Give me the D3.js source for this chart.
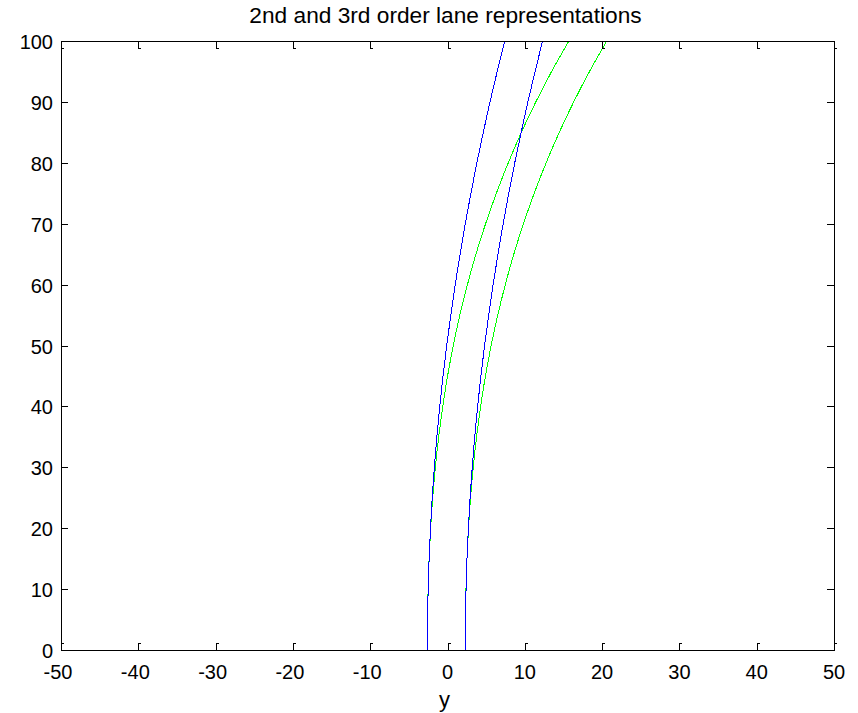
<!DOCTYPE html>
<html>
<head>
<meta charset="utf-8">
<script src="https://cdn.jsdelivr.net/npm/d3@7/dist/d3.min.js"></script>
<style>
  html, body { margin: 0; padding: 0; background: #fff; }
  svg { display: block; }
  text { font-family: "Liberation Sans", Arial, Helvetica, sans-serif; fill: #000; }
</style>
</head>
<body>
<svg id="chart" width="858" height="713"></svg>
<script>
// Longitudinal distance samples (vertical axis) shared by every lane boundary
const distance = [0, 5, 10, 15, 20, 25, 30, 35, 40, 45, 50, 55, 60, 65, 70, 75, 80, 85, 90, 95, 100];

// 2nd order lane model: lateral offset of left / right boundary
const secondOrderLeft  = [-2.60, -2.58, -2.50, -2.38, -2.20, -1.98, -1.70, -1.38, -1.00, -0.58, -0.10,
                           0.43,  1.00,  1.63,  2.30,  3.03,  3.80,  4.63,  5.50,  6.43,  7.40];
const secondOrderRight = [ 2.30,  2.32,  2.40,  2.52,  2.70,  2.92,  3.20,  3.52,  3.90,  4.32,  4.80,
                           5.33,  5.90,  6.53,  7.20,  7.93,  8.70,  9.53, 10.40, 11.33, 12.30];

// 3rd order lane model: lateral offset of left / right boundary
const thirdOrderLeft   = [-2.60, -2.58, -2.51, -2.38, -2.18, -1.92, -1.57, -1.14, -0.61,  0.01,  0.75,
                           1.60,  2.58,  3.68,  4.93,  6.32,  7.86,  9.56, 11.43, 13.47, 15.70];
const thirdOrderRight  = [ 2.30,  2.32,  2.39,  2.52,  2.72,  2.98,  3.33,  3.76,  4.29,  4.91,  5.65,
                           6.50,  7.48,  8.58,  9.83, 11.22, 12.76, 14.46, 16.33, 18.37, 20.60];

const xTicks = [-50, -40, -30, -20, -10, 0, 10, 20, 30, 40, 50];
const yTicks = [0, 10, 20, 30, 40, 50, 60, 70, 80, 90, 100];

const titleText = "2nd and 3rd order lane representations";
const xLabelText = "y";

// Drawn back to front: 3rd order (green) under 2nd order (blue)
const series = [
  { name: "3rd order left",  values: thirdOrderLeft,   color: "#00ff00" },
  { name: "3rd order right", values: thirdOrderRight,  color: "#00ff00" },
  { name: "2nd order left",  values: secondOrderLeft,  color: "#0000ff" },
  { name: "2nd order right", values: secondOrderRight, color: "#0000ff" }
];

const svg = d3.select("#chart");
const plot = { left: 61, right: 834, top: 41, bottom: 650 };

const x = d3.scaleLinear().domain([-50, 50]).range([plot.left, plot.right]);
const y = d3.scaleLinear().domain([0, 100]).range([plot.bottom, plot.top]);

svg.append("defs").append("clipPath").attr("id", "plot-clip")
  .append("rect")
  .attr("x", plot.left).attr("y", plot.top)
  .attr("width", plot.right - plot.left).attr("height", plot.bottom - plot.top);

// Lane boundary curves
const line = d3.line()
  .x(d => x(d[1]))
  .y(d => y(d[0]))
  .curve(d3.curveMonotoneY);

svg.append("g").attr("clip-path", "url(#plot-clip)")
  .selectAll("path")
  .data(series)
  .join("path")
  .attr("d", s => line(distance.map((dist, i) => [dist, s.values[i]])))
  .attr("fill", "none")
  .attr("stroke", s => s.color)
  .attr("stroke-width", 1)
  .attr("shape-rendering", "crispEdges");

// Inward-pointing ticks on all four sides
const tickLen = 7;
const ticks = svg.append("g")
  .attr("stroke", "#000")
  .attr("stroke-width", 1)
  .attr("fill", "none")
  .attr("shape-rendering", "crispEdges");

xTicks.forEach(v => {
  const px = Math.round(x(v)) + 0.5;
  ticks.append("path").attr("d", `M${px},${plot.bottom}V${plot.bottom - tickLen}h2`);
  ticks.append("path").attr("d", `M${px},${plot.top}V${plot.top + tickLen}h2`);
});
yTicks.forEach(v => {
  const py = Math.round(y(v)) + 0.5;
  ticks.append("path").attr("d", `M${plot.left},${py}H${plot.left + tickLen}`);
  ticks.append("path").attr("d", `M${plot.right},${py}H${plot.right - tickLen}`);
});

// Axes box
svg.append("rect")
  .attr("x", plot.left + 0.5).attr("y", plot.top + 0.5)
  .attr("width", plot.right - plot.left).attr("height", plot.bottom - plot.top)
  .attr("fill", "none").attr("stroke", "#000").attr("stroke-width", 1)
  .attr("shape-rendering", "crispEdges");

// Tick labels
svg.append("g").selectAll("text")
  .data(xTicks)
  .join("text")
  .attr("x", d => x(d) + (d < 0 ? -3 : 0))
  .attr("y", 679)
  .attr("text-anchor", "middle")
  .attr("font-size", 20)
  .text(d => d);

svg.append("g").selectAll("text")
  .data(yTicks)
  .join("text")
  .attr("x", 53)
  .attr("y", d => y(d) + 8)
  .attr("text-anchor", "end")
  .attr("font-size", 20)
  .text(d => d);

// Title and axis label
svg.append("text")
  .attr("x", (plot.left + plot.right) / 2 - 2)
  .attr("y", 23)
  .attr("text-anchor", "middle")
  .attr("font-size", 22.7)
  .text(titleText);

svg.append("text")
  .attr("x", (plot.left + plot.right) / 2 - 3)
  .attr("y", 707)
  .attr("text-anchor", "middle")
  .attr("font-size", 22)
  .text(xLabelText);
</script>
</body>
</html>
